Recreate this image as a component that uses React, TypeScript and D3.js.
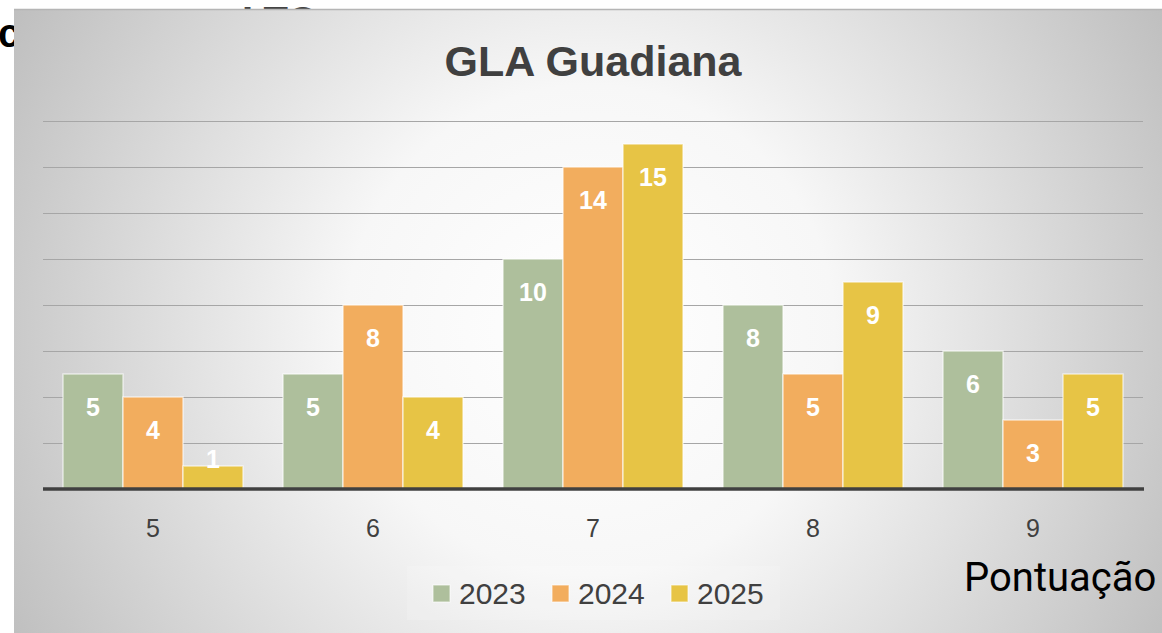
import React, { useEffect, useRef } from "react"
import * as d3 from "d3"

const categories = ["5", "6", "7", "8", "9"]
const years = ["2023", "2024", "2025"]
const values2023 = [5, 5, 10, 8, 6]
const values2024 = [4, 8, 14, 5, 3]
const values2025 = [1, 4, 15, 9, 5]
const yTicks = [0, 2, 4, 6, 8, 10, 12, 14, 16]
const colors = ["#aebf9c", "#f2ad5e", "#e7c445"]

export default function App() {
  const ref = useRef<SVGSVGElement>(null)

  useEffect(() => {
    const W = 1162, H = 633
    const svg = d3.select(ref.current)
    svg.selectAll("*").remove()

    const defs = svg.append("defs")
    const grad = defs.append("radialGradient")
      .attr("id", "bg")
      .attr("gradientUnits", "userSpaceOnUse")
      .attr("cx", 590).attr("cy", 330).attr("r", 700)
    grad.append("stop").attr("offset", "0%").attr("stop-color", "#ffffff")
    grad.append("stop").attr("offset", "35%").attr("stop-color", "#f7f7f7")
    grad.append("stop").attr("offset", "100%").attr("stop-color", "#b9b9b9")

    // page text lying behind the chart
    svg.append("text")
      .attr("x", -2).attr("y", 47)
      .attr("font-family", "Liberation Sans, Arial, sans-serif")
      .attr("font-weight", "bold").attr("font-size", 40)
      .attr("fill", "#000")
      .text("c")
    svg.append("text")
      .attr("x", 242).attr("y", 35)
      .attr("font-family", "Liberation Sans, Arial, sans-serif")
      .attr("font-weight", "bold").attr("font-size", 40)
      .attr("fill", "#444")
      .text("LTO")

    // chart area
    svg.append("rect")
      .attr("x", 14).attr("y", 9)
      .attr("width", W).attr("height", H)
      .attr("fill", "url(#bg)")
    svg.append("line")
      .attr("x1", 14).attr("x2", W).attr("y1", 9.5).attr("y2", 9.5)
      .attr("stroke", "#b5b5b5").attr("stroke-width", 1.5)

    const left = 43, right = 1143, top = 121, bottom = 489
    const x0 = d3.scaleBand().domain(categories).range([left, right]).paddingInner(40 / 220).paddingOuter(20 / 220)
    const x1 = d3.scaleBand().domain(years).range([0, x0.bandwidth()]).padding(0)
    const y = d3.scaleLinear().domain([0, 16]).range([bottom, top])

    svg.append("g").selectAll("line")
      .data(yTicks.slice(1))
      .join("line")
      .attr("x1", left).attr("x2", right)
      .attr("y1", d => y(d) + 0.5).attr("y2", d => y(d) + 0.5)
      .attr("stroke", "#a6a6a6").attr("stroke-width", 1.2)

    const series = [values2023, values2024, values2025]
    const rows = categories.flatMap((c, i) =>
      years.map((yr, j) => ({ cat: c, year: yr, value: series[j][i], color: colors[j] })))

    const bars = svg.append("g")
    bars.selectAll("rect")
      .data(rows)
      .join("rect")
      .attr("x", d => x0(d.cat)! + x1(d.year)!)
      .attr("y", d => y(d.value))
      .attr("width", x1.bandwidth())
      .attr("height", d => bottom - y(d.value))
      .attr("fill", d => d.color)
      .attr("stroke", "rgba(255,255,255,0.6)")
      .attr("stroke-width", 1.5)

    bars.selectAll("text")
      .data(rows)
      .join("text")
      .attr("x", d => x0(d.cat)! + x1(d.year)! + x1.bandwidth() / 2)
      .attr("y", d => Math.min(y(d.value) + 33, bottom - 30))
      .attr("dy", "0.36em")
      .attr("text-anchor", "middle")
      .attr("font-family", "Liberation Sans, Arial, sans-serif")
      .attr("font-weight", "bold").attr("font-size", 25)
      .attr("fill", "#ffffff")
      .text(d => d.value)

    const xAxis = svg.append("g").attr("transform", `translate(0,${bottom})`)
      .call(d3.axisBottom(x0).tickSize(0).tickPadding(30))
    xAxis.select(".domain").attr("stroke", "#404040").attr("stroke-width", 3.5)
      .attr("d", `M${left},0H${right + 1}`)
    xAxis.selectAll("text")
      .attr("font-family", "Liberation Sans, Arial, sans-serif")
      .attr("font-size", 25).attr("fill", "#404040")

    svg.append("text")
      .attr("x", 593).attr("y", 76)
      .attr("text-anchor", "middle")
      .attr("font-family", "Liberation Sans, Arial, sans-serif")
      .attr("font-weight", "bold").attr("font-size", 43)
      .attr("fill", "#404040")
      .text("GLA Guadiana")

    // legend
    svg.append("rect")
      .attr("x", 407).attr("y", 566).attr("width", 373).attr("height", 54)
      .attr("fill", "#ffffff").attr("opacity", 0.15)
    const lg = svg.append("g").selectAll("g")
      .data(years)
      .join("g")
      .attr("transform", (d, i) => `translate(${433 + i * 119},585)`)
    lg.append("rect")
      .attr("width", 17).attr("height", 17)
      .attr("fill", (d, i) => colors[i])
      .attr("stroke", "rgba(255,255,255,0.6)").attr("stroke-width", 1.2)
    lg.append("text")
      .attr("x", 26).attr("y", 8.5).attr("dy", "0.36em")
      .attr("font-family", "Liberation Sans, Arial, sans-serif")
      .attr("font-size", 30).attr("fill", "#404040")
      .text(d => d)

    svg.append("text")
      .attr("x", 964).attr("y", 591)
      .attr("font-family", "Roboto, Liberation Sans, sans-serif")
      .attr("font-size", 40).attr("fill", "#000")
      .text("Pontuação")
  }, [])

  return (
    <svg ref={ref} width={1162} height={633}
      style={{ position: "absolute", left: 0, top: 0, background: "#fff" }} />
  )
}
